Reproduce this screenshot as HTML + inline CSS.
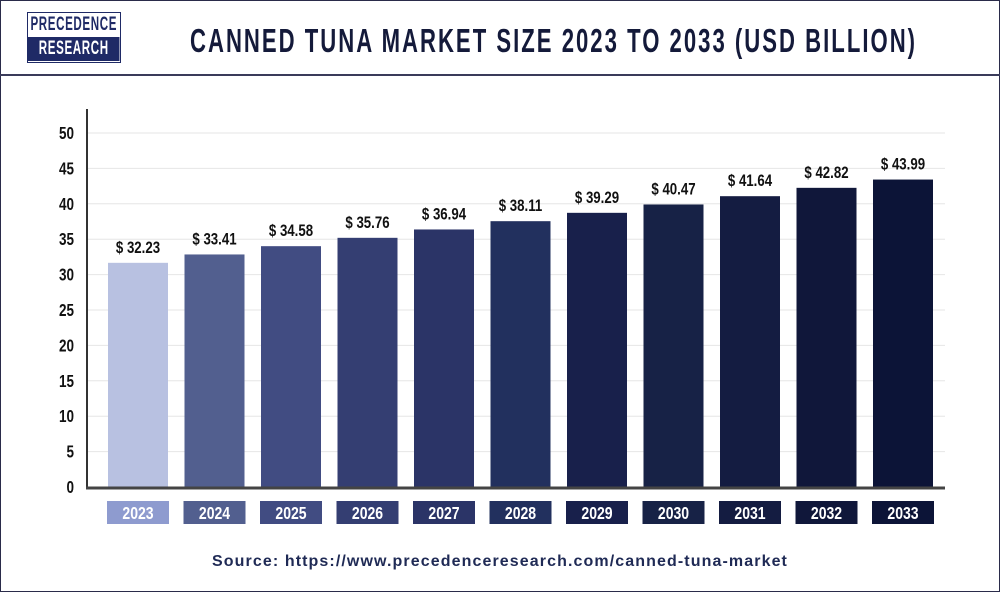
<!DOCTYPE html>
<html><head><meta charset="utf-8"><style>
body{margin:0;width:1000px;height:592px;background:#fff;font-family:"Liberation Sans",sans-serif;overflow:hidden}
#frame{position:absolute;left:0;top:0;width:998px;height:590px;border:1px solid #2a2b4a}
#hdr{position:absolute;left:0;top:74px;width:1000px;height:2px;background:#3a3b5a}
#logo{position:absolute;left:27px;top:12px;width:92px;height:49px;border:1px solid #1f2a66;overflow:hidden}
#logo div{height:24px;line-height:24px;font-weight:bold;font-size:19px;white-space:nowrap;width:150px;transform:scaleX(0.61);transform-origin:0 0;text-align:center;letter-spacing:1px}
#title{position:absolute;left:190px;top:22px;white-space:nowrap;font-weight:bold;font-size:33px;color:#141a3a;letter-spacing:3px;transform:scaleX(0.67);transform-origin:0 0}
#src{position:absolute;left:0;width:1000px;top:553px;text-align:center;font-weight:bold;font-size:16px;color:#1f2a55;letter-spacing:1.1px}
</style></head><body>
<div id="frame"></div>
<div id="logo"><div style="color:#1f2a66;background:#fff">PRECEDENCE</div><div style="color:#fff;background:#1f2a66">RESEARCH</div></div>
<div id="title">CANNED TUNA MARKET SIZE 2023 TO 2033 (USD BILLION)</div>
<div id="hdr"></div>
<svg id="chart" width="1000" height="592" style="position:absolute;left:0;top:0"></svg>
<div id="src">Source: https://www.precedenceresearch.com/canned-tuna-market</div>
<script>
const categories=["2023","2024","2025","2026","2027","2028","2029","2030","2031","2032","2033"];
const values=[32.23,33.41,34.58,35.76,36.94,38.11,39.29,40.47,41.64,42.82,43.99];
const ticks=[0,5,10,15,20,25,30,35,40,45,50];
const barColors=["#b8c1e1","#525f8f","#414c82","#343e72","#2b3467","#22305e","#18204b","#172246","#141c41","#10173a","#0c1437"];
const labelColors=["#8e9bcf","#525f8f","#414c82","#343e72","#2b3467","#22305e","#18204b","#172246","#141c41","#10173a","#0c1437"];
const svg=document.getElementById('chart');const NS="http://www.w3.org/2000/svg";
const y0=487,y50=133,x0=87,step=76.5,firstC=138,bw=60;
const y=v=>Math.min(y0,y0-(y0-y50)*v/50+4);
const x=i=>firstC+i*step;
function mk(t,a){const e=document.createElementNS(NS,t);for(const k in a)e.setAttribute(k,a[k]);svg.appendChild(e);return e;}
function txt(s,px,py,anchor,size,fill,sx){const e=mk('text',{x:0,y:0,'text-anchor':anchor,'font-size':size,'font-weight':'bold',fill:fill,transform:`translate(${px},${py}) scale(${sx},1)`});e.textContent=s;return e;}
ticks.forEach(t=>{
 if(t>0){const g=mk('line',{x1:x0,x2:945,y1:y0-(y0-y50)*t/50,y2:y0-(y0-y50)*t/50,stroke:'#e6e6e6','stroke-width':1});
 
 }
 const l=txt(String(t),74,y0-(y0-y50)*t/50+6,'end',18,'#111',0.75);
 
 
});
values.forEach((v,i)=>{
 const b=mk('rect',{x:x(i)-bw/2,y:y(v),width:bw,height:y0-y(v),fill:barColors[i]});
 
 
 const t=txt('$ '+v.toFixed(2),x(i),y(v)-10,'middle',17,'#111',0.78);
 
 
 const r=mk('rect',{x:x(i)-31,y:501,width:62,height:23,fill:labelColors[i]});
 
 
 const c=txt(categories[i],x(i),519,'middle',18,'#fff',0.78);
 
 
});
const ax=mk('line',{x1:x0,x2:x0,y1:109,y2:y0+1,stroke:'#333','stroke-width':2});


const bx=mk('line',{x1:x0-1,x2:945,y1:y0+1,y2:y0+1,stroke:'#444','stroke-width':3});


</script>
</body></html>
